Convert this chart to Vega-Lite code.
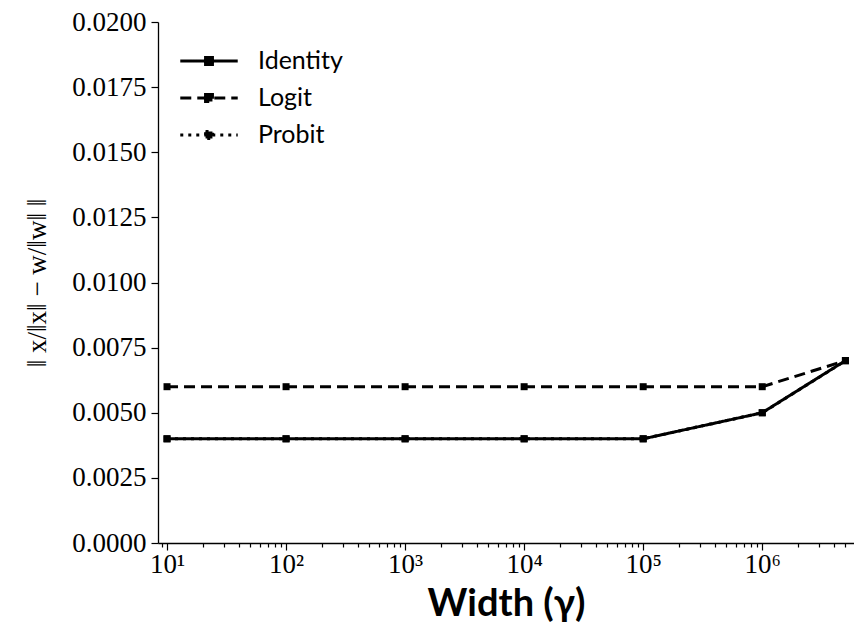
{
  "$schema": "https://vega.github.io/schema/vega-lite/v6.json",
  "width": 696,
  "height": 521,
  "autosize": "none",
  "padding": {"left": 158, "top": 22, "right": 0, "bottom": 82},
  "background": "white",
  "config": {"view": {"stroke": null}},
  "data": {"values": [
    {"width": 10, "value": 0.004, "link": "Identity"},
    {"width": 100, "value": 0.004, "link": "Identity"},
    {"width": 1000, "value": 0.004, "link": "Identity"},
    {"width": 10000, "value": 0.004, "link": "Identity"},
    {"width": 100000, "value": 0.004, "link": "Identity"},
    {"width": 1000000, "value": 0.005, "link": "Identity"},
    {"width": 5000000, "value": 0.007, "link": "Identity"},
    {"width": 10, "value": 0.006, "link": "Logit"},
    {"width": 100, "value": 0.006, "link": "Logit"},
    {"width": 1000, "value": 0.006, "link": "Logit"},
    {"width": 10000, "value": 0.006, "link": "Logit"},
    {"width": 100000, "value": 0.006, "link": "Logit"},
    {"width": 1000000, "value": 0.006, "link": "Logit"},
    {"width": 5000000, "value": 0.007, "link": "Logit"},
    {"width": 10, "value": 0.004, "link": "Probit"},
    {"width": 100, "value": 0.004, "link": "Probit"},
    {"width": 1000, "value": 0.004, "link": "Probit"},
    {"width": 10000, "value": 0.004, "link": "Probit"},
    {"width": 100000, "value": 0.004, "link": "Probit"},
    {"width": 1000000, "value": 0.005, "link": "Probit"},
    {"width": 5000000, "value": 0.007, "link": "Probit"}
  ]},
  "mark": {"type": "line", "strokeWidth": 3, "color": "black", "point": {"shape": "square", "filled": true, "size": 49, "color": "black"}},
  "encoding": {
    "x": {
      "field": "width", "type": "quantitative",
      "scale": {"type": "log", "domain": [8.4, 5.9e6], "nice": false},
      "axis": {
        "title": "Width (γ)",
        "titleFont": "Lato", "titleFontSize": 38, "titleFontWeight": "bold", "titleColor": "black", "titlePadding": 8,
        "values": [9, 10, 20, 30, 40, 50, 60, 70, 80, 90, 100, 200, 300, 400, 500, 600, 700, 800, 900, 1000, 2000, 3000, 4000, 5000, 6000, 7000, 8000, 9000, 10000, 20000, 30000, 40000, 50000, 60000, 70000, 80000, 90000, 100000, 200000, 300000, 400000, 500000, 600000, 700000, 800000, 900000, 1000000, 2000000, 3000000, 4000000, 5000000],
        "labelExpr": "abs(log(datum.value)/LN10 - round(log(datum.value)/LN10)) < 0.001 ? '10' + ['⁰','¹','²','³','⁴','⁵','⁶','⁷'][round(log(datum.value)/LN10)] : ''",
        "labelFont": "Liberation Serif", "labelFontSize": 27, "labelColor": "black", "labelPadding": 1, "labelOverlap": false,
        "tickSize": {"condition": {"test": "abs(log(datum.value)/LN10 - round(log(datum.value)/LN10)) < 0.001", "value": 7}, "value": 4},
        "tickColor": "black", "tickWidth": 1.2,
        "domainColor": "black", "domainWidth": 1.3, "grid": false
      }
    },
    "y": {
      "field": "value", "type": "quantitative",
      "scale": {"domain": [0, 0.02], "nice": false, "zero": false},
      "axis": {
        "title": "‖ x/‖x‖ − w/‖w‖ ‖",
        "titleFont": "Liberation Serif", "titleFontSize": 27, "titleFontWeight": "normal", "titleColor": "black", "titlePadding": 20,
        "values": [0, 0.0025, 0.005, 0.0075, 0.01, 0.0125, 0.015, 0.0175, 0.02],
        "format": ".4f",
        "labelFont": "Liberation Serif", "labelFontSize": 27, "labelColor": "black", "labelPadding": 5,
        "tickSize": 7, "tickColor": "black", "tickWidth": 1.2,
        "domainColor": "black", "domainWidth": 1.3, "grid": false
      }
    },
    "strokeDash": {
      "field": "link", "type": "nominal",
      "scale": {"domain": ["Identity", "Logit", "Probit"], "range": [[1, 0], [11, 6], [3, 5]]},
      "legend": {
        "title": null, "orient": "none", "legendX": 35, "legendY": 23,
        "symbolType": "M-2,0H2M-0.24,-0.24H0.24V0.24H-0.24Z",
        "symbolSize": 825, "symbolStrokeWidth": 3, "symbolStrokeColor": "black", "symbolFillColor": "black",
        "labelFont": "Lato", "labelFontSize": 25, "labelColor": "black", "labelOffset": 33,
        "rowPadding": 8, "symbolOffset": 0,
        "encode": {"symbols": {"update": {"stroke": {"value": "black"}, "strokeWidth": {"value": 3}, "fill": {"value": "black"}}}}
      }
    }
  }
}
